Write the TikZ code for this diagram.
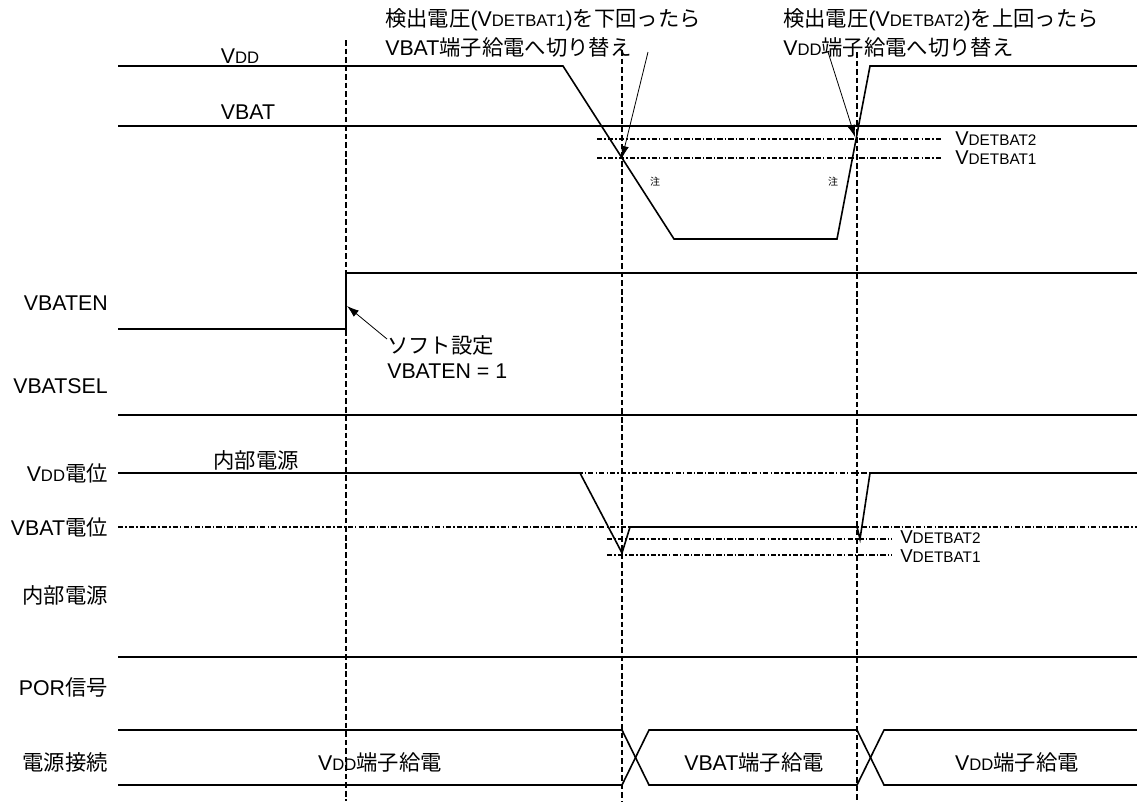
\documentclass[tikz,border=0pt]{standalone}
\usepackage{fontspec}
\setmainfont{Liberation Sans}
\newfontfamily\jp{Noto Sans CJK JP}
\usetikzlibrary{arrows.meta}
\newcommand\jt[1]{{\jp #1}}
\newcommand\smc[1]{{\fontsize{12.5}{12.5}\selectfont #1}}
\newcommand\smd[1]{{\fontsize{11.5}{11.5}\selectfont #1}}
\begin{document}
\begin{tikzpicture}[x=0.75pt,y=-0.75pt,
  sig/.style={line width=1.2pt},
  guide/.style={line width=1.3pt, dash pattern=on 4.2pt off 2.2pt},
  refl/.style={line width=0.9pt, dash pattern=on 4pt off 1.6pt on 1pt off 1.6pt},
  lbl/.style={font=\fontsize{16}{19}\selectfont, inner sep=0pt},
  dlbl/.style={font=\fontsize{15}{15}\selectfont, inner sep=0pt, anchor=west},
  note/.style={font=\fontsize{7.5}{9}\selectfont, inner sep=0pt},
  arr/.style={line width=0.6pt, -{Latex[length=9pt,width=6pt]}}]
\useasboundingbox (0,0) rectangle (1137,801);
% guides
\draw[guide] (346,40) -- (346,801);
\draw[guide] (622,50) -- (622,801);
\draw[guide] (857,52) -- (857,801);
% top texts
\node[lbl,anchor=west] (t1a) at (385,20) {\jt{検出電圧}(V\smc{DETBAT1})\jt{を下回ったら}};
\node[lbl,anchor=west] (t1b) at (385,47) {VBAT\jt{端子給電へ切り替え}};
\node[lbl,anchor=west] (t2a) at (783,20) {\jt{検出電圧}(V\smc{DETBAT2})\jt{を上回ったら}};
\node[lbl,anchor=west] (t2b) at (783,47) {V\smc{DD}\jt{端子給電へ切り替え}};
% VDD / VBAT
\node[lbl] (lvdd) at (240,56) {V\smc{DD}};
\node[lbl] (lvbat) at (248,112) {VBAT};
\draw[sig] (118,66) -- (563,66) -- (674,239) -- (837,239) -- (870,66) -- (1137,66);
\draw[sig] (118,126) -- (1137,126);
\draw[refl] (597,139) -- (943,139);
\draw[refl] (597,158) -- (943,158);
\node[dlbl] (d2a) at (955,139) {V\smd{DETBAT2}};
\node[dlbl] (d1a) at (955,158) {V\smd{DETBAT1}};
\node[note] (n1) at (655,182) {\jt{注}};
\node[note] (n2) at (833,182) {\jt{注}};
\coordinate (a1s) at (648,52);
\coordinate (a1e) at (622,158);
\coordinate (a2s) at (828,52);
\coordinate (a2e) at (855,137);
\draw[arr] (a1s) -- (a1e);
\draw[arr] (a2s) -- (a2e);
% VBATEN
\node[lbl,anchor=east] (lvben) at (108,303) {VBATEN};
\draw[sig] (118,329) -- (346,329) -- (346,273) -- (1137,273);
\node[lbl,anchor=west] (soft1) at (387,345) {\jt{ソフト設定}};
\node[lbl,anchor=west] (soft2) at (387,371) {VBATEN = 1};
\coordinate (a3s) at (387,339);
\coordinate (a3e) at (347,306);
\draw[arr] (a3s) -- (a3e);
% VBATSEL
\node[lbl,anchor=east] (lvbsel) at (108,386) {VBATSEL};
\draw[sig] (118,415) -- (1137,415);
% internal power
\node[lbl] (lint) at (256,460) {\jt{内部電源}};
\node[lbl,anchor=east] (lvddp) at (108,473) {V\smc{DD}\jt{電位}};
\node[lbl,anchor=east] (lvbatp) at (108,527) {VBAT\jt{電位}};
\node[lbl,anchor=east] (lint2) at (108,595) {\jt{内部電源}};
\draw[refl] (118,473) -- (1137,473);
\draw[refl] (118,527) -- (1137,527);
\draw[refl] (607,539) -- (892,539);
\draw[refl] (607,555) -- (892,555);
\node[dlbl,font=\fontsize{14}{14}\selectfont] (d2b) at (900,537) {V\smd{DETBAT2}};
\node[dlbl,font=\fontsize{14}{14}\selectfont] (d1b) at (900,556) {V\smd{DETBAT1}};
\draw[sig] (118,473) -- (580,473) -- (622,553) -- (630,527) -- (857,527) -- (860,539) -- (870,473) -- (1137,473);
% POR
\draw[sig] (118,657) -- (1137,657);
\node[lbl,anchor=east] (lpor) at (108,687) {POR\jt{信号}};
% bus
\node[lbl,anchor=east] (lbus) at (108,762) {\jt{電源接続}};
\draw[sig] (118,730) -- (622,730) -- (649,785) -- (857,785) -- (884,730) -- (1137,730);
\draw[sig] (118,785) -- (622,785) -- (649,730) -- (857,730) -- (884,785) -- (1137,785);
\node[lbl] (b1) at (380,762) {V\smc{DD}\jt{端子給電}};
\node[lbl] (b2) at (754,762) {VBAT\jt{端子給電}};
\node[lbl] (b3) at (1017,762) {V\smc{DD}\jt{端子給電}};
\end{tikzpicture}
\end{document}
